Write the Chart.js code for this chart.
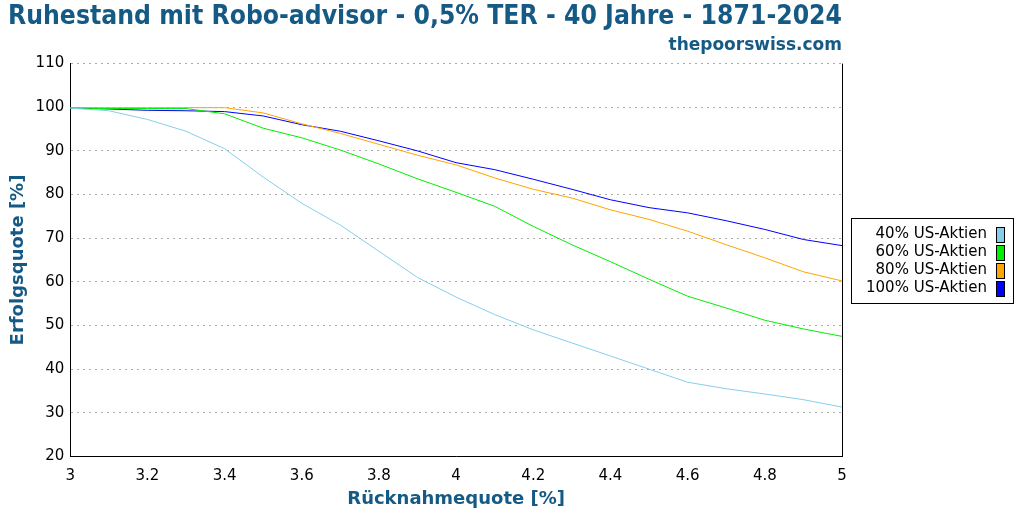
<!DOCTYPE html>
<html>
<head>
<meta charset="utf-8">
<script src="https://cdn.jsdelivr.net/npm/chart.js@4/dist/chart.umd.min.js"></script>
<style>
  html, body { margin: 0; padding: 0; background: #fff; }
  #wrap { width: 1024px; height: 512px; }
</style>
</head>
<body>
<div id="wrap"><canvas id="c"></canvas></div>
<script>
// Withdrawal rates (%) and success rates per allocation
const rates = [3.0, 3.1, 3.2, 3.3, 3.4, 3.5, 3.6, 3.7, 3.8, 3.9, 4.0, 4.1, 4.2, 4.3, 4.4, 4.5, 4.6, 4.7, 4.8, 4.9, 5.0];
const us40  = [99.8, 99.2, 97.2, 94.5, 90.5, 84, 78, 73, 67, 61, 56.5, 52.5, 49, 46, 43, 40, 37, 35.5, 34.3, 33, 31.3];
const us60  = [99.8, 99.7, 99.7, 99.7, 98.5, 95.2, 93, 90.2, 87, 83.6, 80.5, 77.3, 72.7, 68.5, 64.6, 60.6, 56.7, 54, 51.2, 49.2, 47.5];
const us80  = [99.9, 99.9, 99.9, 99.9, 99.9, 98.7, 96.2, 94, 91.5, 89, 86.8, 83.8, 81.2, 79.2, 76.5, 74.3, 71.6, 68.5, 65.5, 62.3, 60.2];
const us100 = [99.8, 99.6, 99.3, 99.2, 99, 98, 96, 94.5, 92.3, 90, 87.3, 85.7, 83.5, 81.2, 78.8, 77, 75.8, 74, 72, 69.7, 68.3];
const seriesNames = ['40% US-Aktien', '60% US-Aktien', '80% US-Aktien', '100% US-Aktien'];
const colors = ['#87ceeb', '#00ee00', '#ffa500', '#0000ff'];

const blue = '#155a85';
const font = 'DejaVu Sans';

const toPts = arr => arr.map((v, i) => ({ x: rates[i], y: v }));

// right border of the plot plus a boxed legend to its right
const frames = {
  id: 'frames',
  afterDraw(chart) {
    const ctx = chart.ctx, a = chart.chartArea;
    ctx.save();
    ctx.strokeStyle = '#000';
    ctx.lineWidth = 1;
    ctx.beginPath();
    ctx.moveTo(a.right + 0.5, a.top);
    ctx.lineTo(a.right + 0.5, a.bottom);
    ctx.stroke();

    const n = chart.data.datasets.length, rowH = 18;
    const bx = a.right + 9, bw = 162, bh = n * rowH + 13;
    const by = Math.round((a.top + a.bottom) / 2 - bh / 2);
    ctx.strokeRect(bx + 0.5, by + 0.5, bw, bh);
    ctx.font = '15px ' + font;
    ctx.textAlign = 'right';
    ctx.textBaseline = 'middle';
    chart.data.datasets.forEach((ds, i) => {
      const cy = by + 16 + i * rowH;
      ctx.fillStyle = '#000';
      ctx.fillText(ds.label, bx + 136, cy);
      ctx.fillStyle = ds.borderColor;
      ctx.fillRect(bx + 145, cy - 7, 8, 15);
      ctx.strokeRect(bx + 145.5, cy - 6.5, 8, 15);
    });
    ctx.restore();
  }
};

new Chart(document.getElementById('c'), {
  type: 'line',
  data: {
    datasets: [us40, us60, us80, us100].map((d, i) => ({
      label: seriesNames[i],
      data: toPts(d),
      borderColor: colors[i],
      backgroundColor: colors[i],
      borderWidth: 1,
      pointRadius: 0,
      tension: 0
    }))
  },
  options: {
    responsive: true,
    maintainAspectRatio: false,
    animation: false,
    layout: { padding: { left: 8, right: 182, bottom: 2, top: 2 } },
    plugins: {
      title: {
        display: true,
        text: 'Ruhestand mit Robo-advisor - 0,5% TER - 40 Jahre - 1871-2024',
        color: blue,
        font: { family: font, size: 26, weight: 'bold' },
        padding: { top: 0, bottom: 0 }
      },
      subtitle: {
        display: true,
        text: 'thepoorswiss.com',
        align: 'end',
        fullSize: true,
        color: blue,
        font: { family: font, size: 17, weight: 'bold' },
        padding: { top: 2, bottom: 8 }
      },
      legend: { display: false },
      tooltip: { enabled: false }
    },
    scales: {
      x: {
        type: 'linear',
        min: 3, max: 5,
        grid: { display: false },
        border: { color: '#000' },
        ticks: { stepSize: 0.2, color: '#000', font: { family: font, size: 15 }, callback: v => String(Math.round(v * 10) / 10) },
        title: { display: true, text: 'Rücknahmequote [%]', color: blue, font: { family: font, size: 18, weight: 'bold' }, padding: 0 }
      },
      y: {
        min: 20, max: 110,
        grid: { color: '#aaa', drawTicks: false },
        border: { color: '#000', dash: [2, 4] },
        ticks: { stepSize: 10, color: '#000', font: { family: font, size: 15 }, padding: 6 },
        title: { display: true, text: 'Erfolgsquote [%]', color: blue, font: { family: font, size: 18, weight: 'bold' }, padding: 0 }
      }
    }
  },
  plugins: [frames]
});
</script>
</body>
</html>
